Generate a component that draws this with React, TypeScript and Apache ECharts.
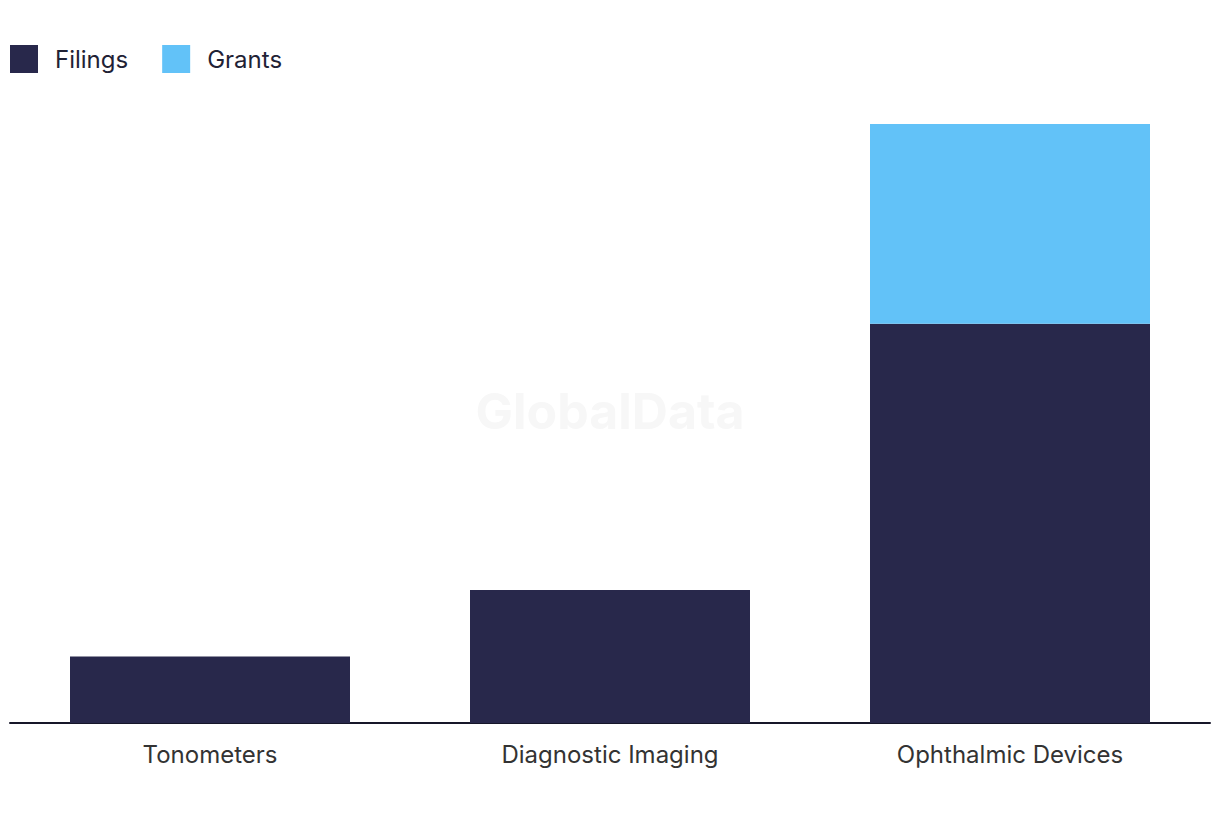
import React, { useEffect, useRef } from "react";
import * as echarts from "echarts";

const categories = ["Tonometers", "Diagnostic Imaging", "Ophthalmic Devices"];
const filings = [1, 2, 6];
const grants = [0, 0, 3];

export default function App() {
  const ref = useRef<HTMLDivElement>(null);
  useEffect(() => {
    document.body.style.margin = "0";
    const chart = echarts.init(ref.current!, null, { renderer: "svg" });
    chart.setOption({
      animation: false,
      backgroundColor: "#ffffff",
      textStyle: { fontFamily: "Inter, 'Noto Sans', sans-serif" },
      legend: {
        left: 5,
        top: 40,
        itemWidth: 28,
        itemHeight: 28,
        itemGap: 34,
        icon: "rect",
        textStyle: { fontSize: 24, color: "#1f2235", padding: [0, 0, 0, 12] },
        data: ["Filings", "Grants"],
      },
      graphic: [
        {
          type: "text",
          left: "center",
          top: 386,
          style: {
            text: "GlobalData",
            fontSize: 50,
            fontWeight: "bold",
            fill: "#f7f7f7",
            fontFamily: "Inter, 'Noto Sans', sans-serif",
          },
          z: -1,
        },
      ],
      grid: { left: 10, right: 10, top: 124, bottom: 97 },
      xAxis: {
        type: "category",
        data: categories,
        axisLine: { lineStyle: { color: "#161629", width: 2 } },
        axisTick: { show: false },
        axisLabel: { fontSize: 24, color: "#333333", margin: 19 },
      },
      yAxis: {
        type: "value",
        min: 0,
        max: 9,
        show: false,
        splitLine: { show: false },
      },
      series: [
        {
          name: "Filings",
          type: "bar",
          stack: "total",
          data: filings,
          barWidth: "70%",
          itemStyle: { color: "#28284b" },
        },
        {
          name: "Grants",
          type: "bar",
          stack: "total",
          data: grants,
          barWidth: "70%",
          itemStyle: { color: "#62c2f8" },
        },
      ],
    });
    return () => chart.dispose();
  }, []);
  return <div ref={ref} style={{ width: 1220, height: 820 }} />;
}
